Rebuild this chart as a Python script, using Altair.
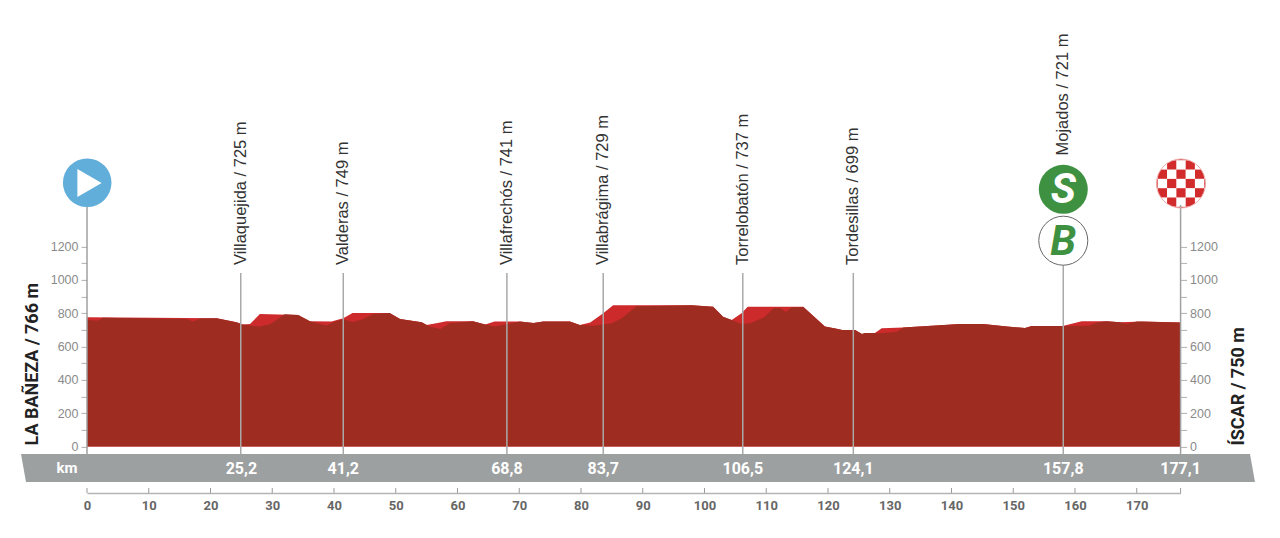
import altair as alt
import pandas as pd

# --- values ---
upper_km = [0,21,24.2,25.2,26.4,28,34.2,36.1,39.6,41.5,43,49,50.7,54.2,55,57,58.2,62.5,64.5,66,70.1,72.3,73.9,78.2,79.8,81.5,83.6,85.2,97.9,101.4,103,104.4,106,107,116,119.5,121.4,122.3,124.4,125.5,126,127.6,128.7,132.2,141.4,145.1,149,151.9,153,158,161.1,165.1,167.3,171,177.1]
upper_m = [776,770,746,732,735,796,790,752,750,770,802,802,766,746,730,743,752,752,732,751,751,741,751,751,730,744,800,848,848,840,780,760,800,840,840,720,707,700,700,676,682,682,710,715,735,735,720,712,723,723,753,753,746,751,745]
lower_km = [0,1.8,2.6,16.1,17.2,18.3,21,24.2,25.2,26.4,28,29.6,30.7,32,34.2,36.1,37.2,38.8,40.4,41.5,43,44.7,46.4,49,50.7,54.2,55.5,57.2,58.8,62.5,64.5,66,67.7,70.1,72.3,73.9,78.2,79.8,82,85,86.6,89,97.9,101.4,103,104.4,106,107.4,109.6,111.2,112.3,113.2,114.1,116,119.5,121.4,122.3,124.4,125.5,126,127.6,128.4,131.1,132.2,141.4,145.1,149,151.9,153,158,159,162.2,163.8,165.1,167.3,168.4,170,177.1]
lower_m = [760,755,773,766,750,769,770,746,732,726,720,734,760,794,790,752,740,726,754,764,748,764,796,802,766,746,720,706,740,752,732,720,732,751,741,751,751,730,725,740,770,843,848,840,780,760,735,740,775,830,830,808,835,838,720,707,700,700,676,682,682,680,688,715,735,735,720,712,723,723,723,725,746,753,746,735,750,745]
place_names = ["Villaquejida / 725 m","Valderas / 749 m","Villafrechós / 741 m","Villabrágima / 729 m","Torrelobatón / 737 m","Tordesillas / 699 m","Mojados / 721 m"]
place_km = [24.9,41.5,68.0,83.6,106.2,124.1,158.1]
km_labels = ["25,2","41,2","68,8","83,7","106,5","124,1","157,8","177,1"]
km_label_pos = [25.0,41.5,68.0,83.6,106.2,124.1,158.1,177.1]
x_ticks = list(range(0,180,10))
y_ticks = list(range(0,1300,100))

# --- scale geometry of the reference ---
PX_KM = 6.175
PX_M = 0.1665
X0, Y0 = 87.0, 446.5
def kmx(px): return (px-X0)/PX_KM
def my(py): return (Y0-py)/PX_M

W = 177.1*PX_KM
H = 2400*PX_M
xs = alt.Scale(domain=[0,177.1], nice=False, zero=False)
ys = alt.Scale(domain=[0,2400], nice=False, zero=False)
X = lambda f='km:Q': alt.X(f, scale=xs, axis=None)
Y = lambda f='m:Q': alt.Y(f, scale=ys, axis=None)
YD = lambda v: alt.Y(datum=v, scale=ys, axis=None)

GRAY='#a9a9a9'
COND='Roboto'

upper = pd.DataFrame({'km':upper_km,'m':upper_m})
lower = pd.DataFrame({'km':lower_km,'m':lower_m})

l_bright = alt.Chart(upper).mark_area(color='#cd2a2c', clip=False).encode(x=X(), y=Y(), y2=alt.datum(0))
l_dark = alt.Chart(lower).mark_area(color='#9e2c20').encode(x=X(), y=Y(), y2=alt.datum(0))

# real axes
left_axis = alt.Chart(pd.DataFrame({'km':[0],'m':[0]})).mark_point(opacity=0).encode(
    x=alt.X('km:Q', scale=xs, axis=alt.Axis(orient='bottom', offset=46.5, values=x_ticks, format='d', grid=False,
            tickSize=0, labelPadding=7, labelFont=COND, labelFontWeight='bold', labelFontSize=13, labelColor='#666666',
            domain=True, domainColor='#b5b5b5', domainWidth=1.5, title=None, labelFlush=False)),
    y=alt.Y('m:Q', scale=ys, axis=alt.Axis(orient='left', values=y_ticks, grid=False, domain=False, tickColor='#b0b0b0',
            tickSize=6, labelPadding=3, labelFont='Liberation Sans', labelFontSize=12.5, labelColor='#8a8a8a', title=None,
            labelExpr="datum.value % 200 == 0 ? format(datum.value,'d') : ''")))
right_axis = alt.Chart(pd.DataFrame({'km':[0],'m':[0]})).mark_point(opacity=0).encode(
    x=X(),
    y=alt.Y('m:Q', scale=ys, axis=alt.Axis(orient='right', values=y_ticks, grid=False, domain=False, tickColor='#b0b0b0',
            tickSize=6, labelPadding=3, labelFont='Liberation Sans', labelFontSize=12.5, labelColor='#8a8a8a', title=None,
            labelExpr="datum.value % 200 == 0 ? format(datum.value,'d') : ''")))

# km-scale ticks
tick_df = pd.DataFrame({'km':x_ticks+[177.1]})
l_xticks = alt.Chart(tick_df).mark_rule(color='#9a9a9a', strokeWidth=1).encode(
    x=X(), y=YD(my(488)), y2=alt.datum(my(493)))

# grey band
band_df = pd.DataFrame({'km':[kmx(21),kmx(26),kmx(1250),kmx(1255)],
                        'top':[my(454)]*3+[my(482)],
                        'bot':[my(454)]+[my(482)]*3})
l_band = alt.Chart(band_df).mark_area(color='#9da0a1').encode(x=X(), y=Y('top:Q'), y2='bot:Q')

# vertical lines
lines_df = pd.DataFrame({'km':place_km,'top':[my(273)]*6+[my(262)]})
l_lines = alt.Chart(lines_df).mark_rule(color=GRAY, strokeWidth=1.5).encode(
    x=X(), y=Y('top:Q'), y2=alt.datum(my(454)))
l_lines2 = alt.Chart(pd.DataFrame({'km':[0,177.1]})).mark_rule(color='#a0a0a0', strokeWidth=1.5).encode(
    x=X(), y=YD(my(205)), y2=alt.datum(my(454)))

# place labels
place_df = pd.DataFrame({'km':place_km,'name':place_names,
    'm':[my(265)]*6+[my(155.5)]})
l_places = alt.Chart(place_df).mark_text(angle=270, align='left', baseline='middle', font='Liberation Sans',
    fontSize=16.5, color='#333333').encode(x=X(), y=Y(), text='name:N')

# km labels in band
kmt = pd.DataFrame({'km':km_label_pos,'t':km_labels,'m':[my(469)]*8})
l_kmt = alt.Chart(kmt).mark_text(font=COND, fontWeight='bold', fontSize=16, color='white').encode(x=X(), y=Y(), text='t:N')
l_kmw = alt.Chart(pd.DataFrame({'km':[kmx(67)],'m':[my(468)],'t':['km']})).mark_text(
    font=COND, fontWeight='bold', fontSize=15, color='white').encode(x=X(), y=Y(), text='t:N')

# end titles
ends = pd.DataFrame({'km':[kmx(33),kmx(1239)],'m':[my(445.5),my(445.5)],'t':['LA BAÑEZA / 766 m','ÍSCAR / 750 m']})
l_ends = alt.Chart(ends).mark_text(angle=270, align='left', baseline='middle', font=COND, fontWeight='bold',
    fontSize=18, color='#222222').encode(x=X(), y=Y(), text='t:N')

# start badge
start = pd.DataFrame({'km':[kmx(87.2)],'m':[my(182.7)]})
l_start = alt.Chart(start).mark_point(shape='circle', filled=True, size=2362, color='#62aedb', opacity=1).encode(x=X(), y=Y())
tri = pd.DataFrame({'km':[kmx(89.5)],'m':[my(183)]})
l_tri = alt.Chart(tri).mark_point(shape='triangle-right', filled=True, size=784, color='white', opacity=1).encode(x=X(), y=Y())

# finish badge
CX, CY, P = 1181.0, 183.5, 9.3
cells = [(i,j) for i in range(-3,4) for j in range(-3,4) if (i+j)%2==1]
chk = pd.DataFrame({'km':[kmx(CX+i*P) for i,j in cells],'m':[my(CY+j*P) for i,j in cells]})
l_chk = alt.Chart(chk).mark_square(size=P*P*0.98, color='#d22b2b', opacity=1).encode(x=X(), y=Y())
fin = pd.DataFrame({'km':[kmx(CX)],'m':[my(CY)]})
l_mask = alt.Chart(fin).mark_point(shape='circle', filled=False, size=(2*37)**2, stroke='white', strokeWidth=25, opacity=1).encode(x=X(), y=Y())
l_ring = alt.Chart(fin).mark_point(shape='circle', filled=False, size=2401, stroke='#eeaaaa', strokeWidth=1, opacity=1).encode(x=X(), y=Y())

# sprint / bonus badges
sb_km = kmx(1063.3)
s_df = pd.DataFrame({'km':[sb_km],'m':[my(189.3)]})
b_df = pd.DataFrame({'km':[sb_km],'m':[my(240.7)]})
l_s = alt.Chart(s_df).mark_point(shape='circle', filled=True, size=2401, color='#3f9142', opacity=1).encode(x=X(), y=Y())
l_b = alt.Chart(b_df).mark_point(shape='circle', filled=True, size=2401, fill='white', stroke='#666666', strokeWidth=1, opacity=1).encode(x=X(), y=Y())
l_st = alt.Chart(s_df.assign(t='S')).mark_text(font=COND, fontWeight='bold', fontStyle='italic', fontSize=42, color='white', baseline='middle', dy=1).encode(x=X(), y=Y(), text='t:N')
l_bt = alt.Chart(b_df.assign(t='B')).mark_text(font=COND, fontWeight='bold', fontStyle='italic', fontSize=42, color='#3f9142', baseline='middle', dy=1).encode(x=X(), y=Y(), text='t:N')

chart = alt.layer(
    left_axis, right_axis,
    l_bright, l_dark, l_band, l_lines, l_xticks,
    l_places, l_kmt, l_kmw, l_ends,
    l_chk, l_mask, l_lines2, l_ring, l_start, l_tri, l_s, l_b, l_st, l_bt
).resolve_axis(x='independent', y='independent').properties(
    width=W, height=H,
    autosize=alt.AutoSizeParams(type='none'),
    padding={'left':79,'top':Y0-H-8,'right':91,'bottom':80},
    background='white'
).configure_view(stroke=None)

chart.save("out.html", embed_options={"renderer": "svg", "actions": False})
